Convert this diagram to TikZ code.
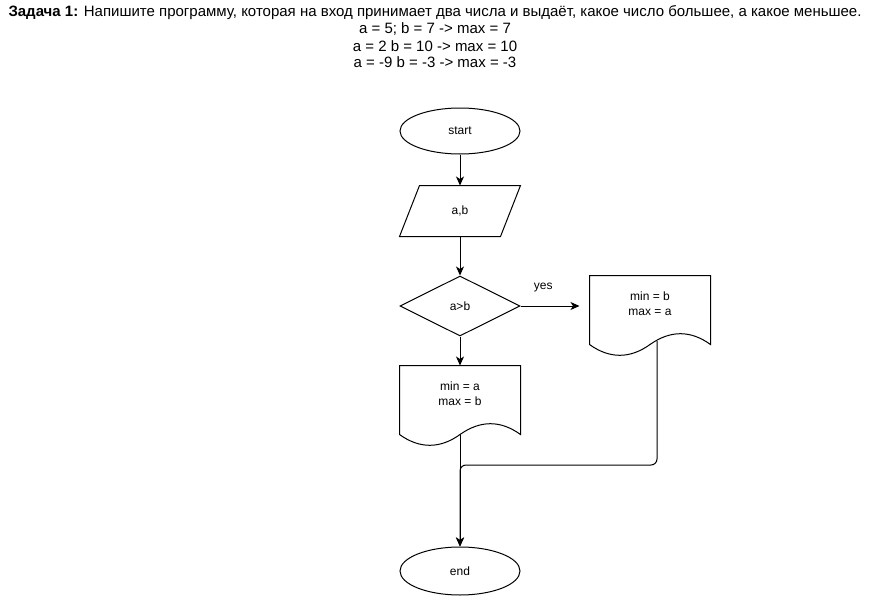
\documentclass[tikz,border=0pt]{standalone}
\usepackage{fontspec}
\setmainfont{Liberation Sans}
\usetikzlibrary{shapes.geometric,arrows.meta,calc}

\begin{document}
\begin{tikzpicture}[x=1pt,y=-1pt,line width=1pt,
  title/.style={font=\fontsize{15}{17}\selectfont, inner sep=0pt, anchor=center},
  lbl/.style={font=\fontsize{12}{15}\selectfont, align=center, inner sep=0pt},
  term/.style={lbl, draw, ellipse, minimum width=120pt, minimum height=46pt},
  iobox/.style={lbl, minimum width=100pt, minimum height=50pt},
  decide/.style={lbl, draw, diamond, aspect=2, minimum width=120pt, minimum height=60pt},
  docbox/.style={lbl, minimum width=120pt, minimum height=56pt},
  flow/.style={-{Stealth[length=9pt,width=8pt,inset=2.5pt]}},
  mergeline/.style={rounded corners=6pt}]

  % canvas
  \useasboundingbox (0,0) rectangle (871,597);
  \fill[white] (0,0) rectangle (871,597);

  % task statement
  \node[title] (t1) at (435,12.5) {\textbf{Задача 1:} Напишите программу, которая на вход принимает два числа и выдаёт, какое число большее, а какое меньшее.};
  \node[title] (t2) at (435,29) {a = 5; b = 7 -> max = 7};
  \node[title] (t3) at (435,46) {a = 2 b = 10 -> max = 10};
  \node[title] (t4) at (435,62) {a = -9 b = -3 -> max = -3};

  % flowchart blocks
  \node[term] (start) at (460,131) {start};

  \node[iobox] (io) at (460,211) {a,b};
  \draw ($(io.north west)+(10,0)$) -- ($(io.north east)+(10,0)$)
        -- ($(io.south east)+(-10,0)$) -- ($(io.south west)+(-10,0)$) -- cycle;

  \node[decide] (cond) at (460,306) {a>b};

  \node[docbox] (rdoc) at (650,304) {min = b\\max = a};
  \draw (rdoc.north west) -- (rdoc.north east) -- ($(rdoc.south east)+(0,12)$)
        .. controls ($(rdoc.south east)+(-20,-2.4)$) and ($(rdoc.south east)+(-40,-2.4)$) .. ($(rdoc.south)+(0,12)$)
        .. controls ($(rdoc.south)+(-20,26.4)$) and ($(rdoc.south west)+(20,26.4)$) .. ($(rdoc.south west)+(0,12)$)
        -- cycle;

  \node[docbox] (ldoc) at (460,394) {min = a\\max = b};
  \draw (ldoc.north west) -- (ldoc.north east) -- ($(ldoc.south east)+(0,12)$)
        .. controls ($(ldoc.south east)+(-20,-2.4)$) and ($(ldoc.south east)+(-40,-2.4)$) .. ($(ldoc.south)+(0,12)$)
        .. controls ($(ldoc.south)+(-20,26.4)$) and ($(ldoc.south west)+(20,26.4)$) .. ($(ldoc.south west)+(0,12)$)
        -- cycle;

  \node[term, minimum height=48pt] (stop) at (460,571) {end};

  % connectors
  \coordinate (rexit) at (657,341);
  \coordinate (merge) at (460,465);

  \draw[flow] (start) -- (io);
  \draw[flow] (io) -- (cond);
  \draw[flow, shorten >=10pt] (cond.east) -- node[lbl, pos=0.33, yshift=18pt] (yes) {yes} (rdoc.west |- cond.east);
  \draw[flow] (cond) -- (ldoc);
  \draw[flow] ($(ldoc.south)+(0,12)$) -- (stop.north);
  \draw[flow, mergeline] (rexit) |- (merge) -- (stop.north);
\end{tikzpicture}
\end{document}
